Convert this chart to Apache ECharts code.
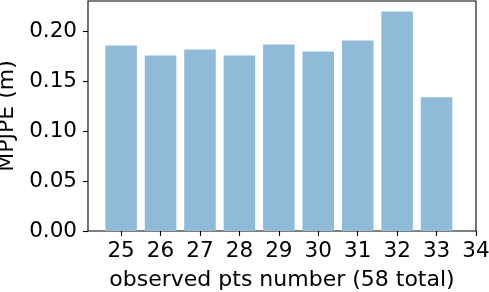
<!DOCTYPE html>
<html>
<head>
<meta charset="utf-8">
<script src="https://cdn.jsdelivr.net/npm/echarts@6/dist/echarts.min.js"></script>
<style>
html,body{margin:0;padding:0;background:#fff;}
#c{width:489px;height:292px;}
</style>
</head>
<body>
<div id="c"></div>
<script>
const categories = [25, 26, 27, 28, 29, 30, 31, 32, 33];
const mpjpe = [0.186, 0.176, 0.182, 0.176, 0.187, 0.180, 0.191, 0.220, 0.134];
const xTicks = [25, 26, 27, 28, 29, 30, 31, 32, 33, 34];
const yTicks = [0, 0.05, 0.10, 0.15, 0.20];

const FONT = 'DejaVu Sans';
const FS = 21.5;
const chart = echarts.init(document.getElementById('c'), null, {renderer: 'canvas'});
const xMin = 24.16, xMax = 34, yMax = 0.2305;
const gridLeft = 88, gridRight = 13, gridTop = 1, gridBottom = 61;
const plotW = 489 - gridLeft - gridRight;
const barW = plotW / (xMax - xMin) * 0.8;

chart.setOption({
  animation: false,
  backgroundColor: '#fff',
  grid: {left: gridLeft, right: gridRight, top: gridTop, bottom: gridBottom,
         outerBoundsMode: 'none', containLabel: false,
         show: true, borderColor: '#000', borderWidth: 1.1, backgroundColor: 'transparent'},
  xAxis: {
    type: 'value', min: xMin, max: xMax,
    name: 'observed pts number (58 total)', nameLocation: 'middle', nameGap: 38,
    nameTextStyle: {fontFamily: FONT, fontSize: 22, color: '#000'},
    axisLine: {show: false},
    splitLine: {show: false},
    axisTick: {show: true, inside: false, length: 5, lineStyle: {color: '#000', width: 1.1}, customValues: xTicks},
    axisLabel: {fontFamily: FONT, fontSize: FS, color: '#000', margin: 9, customValues: xTicks,
                formatter: v => String(Math.round(v))}
  },
  yAxis: {
    type: 'value', min: 0, max: yMax,
    name: 'MPJPE (m)', nameLocation: 'middle', nameGap: 68,
    nameTextStyle: {fontFamily: FONT, fontSize: 22, color: '#000'},
    axisLine: {show: false},
    splitLine: {show: false},
    axisTick: {show: true, inside: false, length: 5, lineStyle: {color: '#000', width: 1.1}, customValues: yTicks},
    axisLabel: {fontFamily: FONT, fontSize: FS, color: '#000', margin: 11, customValues: yTicks,
                formatter: v => v.toFixed(2)}
  },
  series: [{
    type: 'bar',
    data: categories.map((c, i) => [c, mpjpe[i]]),
    barWidth: barW,
    itemStyle: {color: '#8fbbd9'}
  }]
});
</script>
</body>
</html>
